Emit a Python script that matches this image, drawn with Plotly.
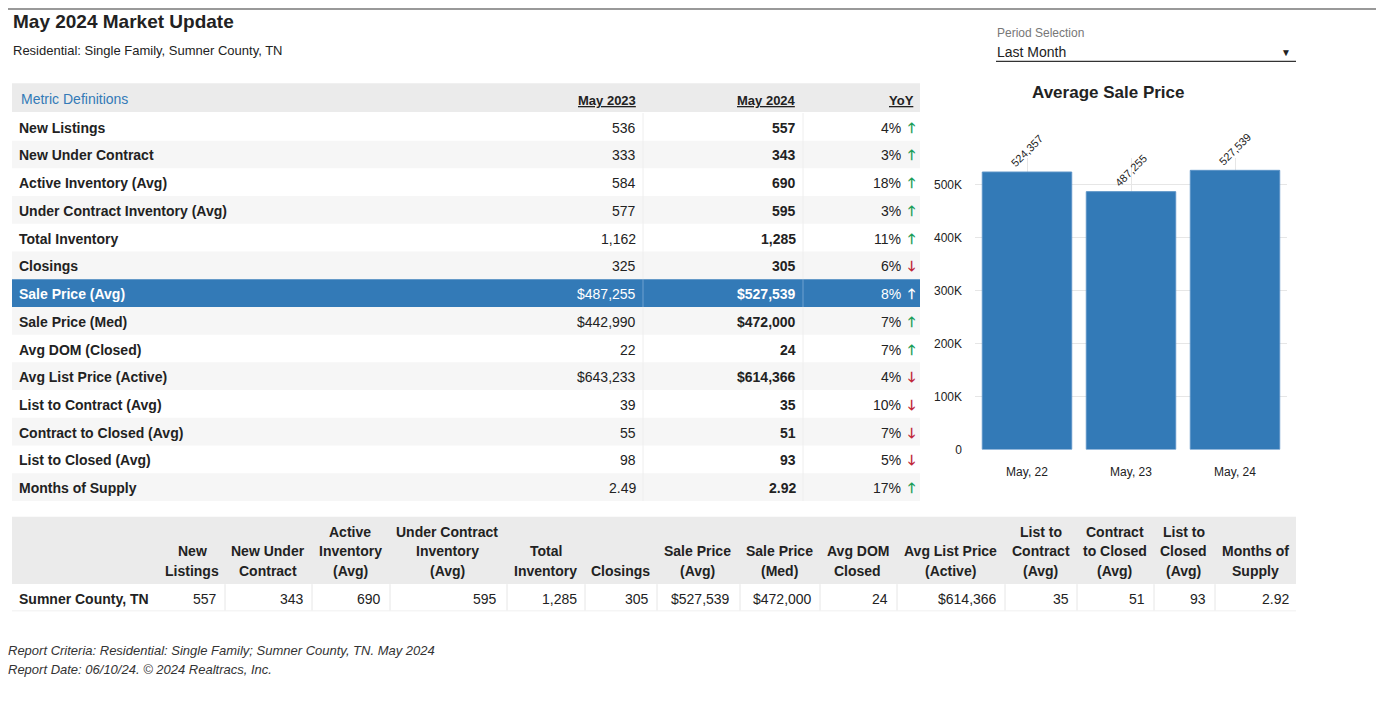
import plotly.graph_objects as go

# page gets an 8px body margin, so the figure is drawn 8px in from the window edge
OFF = 8
W, H = 1384 - 2 * OFF, 690

# ---- data ----
metrics = ["New Listings", "New Under Contract", "Active Inventory (Avg)", "Under Contract Inventory (Avg)",
           "Total Inventory", "Closings", "Sale Price (Avg)", "Sale Price (Med)", "Avg DOM (Closed)",
           "Avg List Price (Active)", "List to Contract (Avg)", "Contract to Closed (Avg)",
           "List to Closed (Avg)", "Months of Supply"]
may_2023 = ["536", "333", "584", "577", "1,162", "325", "$487,255", "$442,990", "22", "$643,233",
            "39", "55", "98", "2.49"]
may_2024 = ["557", "343", "690", "595", "1,285", "305", "$527,539", "$472,000", "24", "$614,366",
            "35", "51", "93", "2.92"]
yoy = ["4%", "3%", "18%", "3%", "11%", "6%", "8%", "7%", "7%", "4%", "10%", "7%", "5%", "17%"]
yoy_up = [True, True, True, True, True, False, True, True, True, False, False, False, False, True]
highlight = "Sale Price (Avg)"

bar_labels = ["May, 22", "May, 23", "May, 24"]
bar_values = [524357, 487255, 527539]

bottom_headers = ["New<br>Listings", "New Under<br>Contract", "Active<br>Inventory<br>(Avg)",
                  "Under Contract<br>Inventory<br>(Avg)", "Total<br>Inventory", "Closings",
                  "Sale Price<br>(Avg)", "Sale Price<br>(Med)", "Avg DOM<br>Closed",
                  "Avg List Price<br>(Active)", "List to<br>Contract<br>(Avg)", "Contract<br>to Closed<br>(Avg)",
                  "List to<br>Closed<br>(Avg)", "Months of<br>Supply"]
bottom_area = "Sumner County, TN"
bottom_values = ["557", "343", "690", "595", "1,285", "305", "$527,539", "$472,000", "24",
                 "$614,366", "35", "51", "93", "2.92"]

FONT = "Liberation Sans, Arial, sans-serif"
BLUE = "#337ab7"


def px(x):
    return (x - OFF) / W


def py(y):
    return 1 - (y - OFF) / H


shapes, ann = [], []


def rect(x0, y0, x1, y1, color):
    shapes.append(dict(type="rect", xref="paper", yref="paper", x0=px(x0), x1=px(x1),
                       y0=py(y1), y1=py(y0), fillcolor=color, line_width=0, layer="below"))


def line(x0, y0, x1, y1, color, w=1):
    shapes.append(dict(type="line", xref="paper", yref="paper", x0=px(x0), x1=px(x1),
                       y0=py(y0), y1=py(y1), line=dict(color=color, width=w)))


def text(x, y, s, size=14, color="#222", bold=False, xanchor="left", yanchor="middle", italic=False, family=FONT):
    if bold:
        s = "<b>" + s + "</b>"
    if italic:
        s = "<i>" + s + "</i>"
    ann.append(dict(x=px(x), y=py(y), xref="paper", yref="paper", text=s, showarrow=False,
                    xanchor=xanchor, yanchor=yanchor, font=dict(size=size, color=color, family=family)))


# top border
line(OFF, OFF + 1, 1384 - OFF, OFF + 1, "#999", 2)

# title
text(11, 22, "May 2024 Market Update", 19, "#222", bold=True)
text(11, 51, "Residential: Single Family, Sumner County, TN", 13)

# period selection
text(995, 33, "Period Selection", 12, "#777")
text(995, 52, "Last Month", 14, "#222")
text(1286, 53, "▼", 10, "#222", xanchor="center")
line(996, 62, 1296, 62, "#333", 1.3)

# main table
rect(12, 84, 920, 113, "#ebebeb")
text(19, 100, "Metric Definitions", 14, BLUE)
text(638, 101, "<u>May 2023</u>", 13, "#222", bold=True, xanchor="right")
text(798, 101, "<u>May 2024</u>", 13, "#222", bold=True, xanchor="right")
text(916, 101, "<u>YoY</u>", 13, "#222", bold=True, xanchor="right")

for i, m in enumerate(metrics):
    top = 114 + i * 28
    cy = top + 15
    hl = m == highlight
    if hl:
        rect(12, top, 920, top + 28, BLUE)
    elif i % 2 == 1:
        rect(12, top, 920, top + 28, "#f6f6f6")
    sep = "#6fa0cf" if hl else "#eeeeee"
    line(643, top, 643, top + 28, sep, 1)
    line(803, top, 803, top + 28, sep, 1)
    tc = "white" if hl else "#222"
    text(17, cy, m, 14, tc, bold=True)
    text(638, cy, may_2023[i], 14, tc, xanchor="right")
    text(798, cy, may_2024[i], 14, tc, bold=True, xanchor="right")
    text(903, cy, yoy[i], 14, tc, xanchor="right")
    ac = "white" if hl else ("#1e9e5a" if yoy_up[i] else "#c0283a")
    text(911, cy, "<b>" + ("🡑" if yoy_up[i] else "🡓") + "</b>", 14, ac, xanchor="center",
         family="DejaVu Sans, sans-serif")

# bottom table
col_right = [218, 305, 382, 498, 578, 650, 731, 813, 889, 998, 1070, 1146, 1207, 1290]
col_left = [160, 225, 312, 390, 507, 585, 657, 740, 820, 897, 1005, 1077, 1154, 1215]
rect(12, 522, 1296, 590, "#ebebeb")
text(17, 605, bottom_area, 14, "#222", bold=True)
for i, hdr in enumerate(bottom_headers):
    cx = (col_left[i] + col_right[i] + 6) / 2
    parts = hdr.split("<br>")
    for k, part in enumerate(parts):
        yline = 577 - 20 * (len(parts) - 1 - k)
        text(cx, yline, part, 14, "#222", bold=True, xanchor="center")
    text(col_right[i] + 1, 605, bottom_values[i], 14, "#222", xanchor="right")
    if i > 0:
        line(col_left[i], 590, col_left[i], 617, "#e6e6e6", 1)
line(12, 617, 1296, 617, "#f0f0f0", 1)

# footer
text(6, 657, "Report Criteria: Residential: Single Family; Sumner County, TN. May 2024", 13, "#333", italic=True)
text(6, 676, "Report Date: 06/10/24. © 2024 Realtracs, Inc.", 13, "#333", italic=True)

# bar chart
text(1108, 93, "Average Sale Price", 17, "#222", bold=True, xanchor="center")

fig = go.Figure(go.Bar(
    x=bar_labels, y=bar_values, marker=dict(color=BLUE, line=dict(color="#5b93c7", width=1)),
    width=0.86, text=[f"{v:,}" for v in bar_values], textposition="outside", textangle=-45,
    textfont=dict(size=11, color="#222", family=FONT), cliponaxis=False,
))
fig.update_layout(
    width=W, height=H, margin=dict(l=0, r=0, t=0, b=0),
    paper_bgcolor="white", plot_bgcolor="white", showlegend=False,
    shapes=shapes, annotations=ann,
    xaxis=dict(domain=[px(975), px(1287)], showgrid=True, gridcolor="#e6e6e6",
               tickfont=dict(size=12, color="#222", family=FONT), ticks="", showline=False,
               ticklabelstandoff=14),
    yaxis=dict(domain=[py(454), py(160)], range=[0, 550000], tickvals=[0, 100000, 200000, 300000, 400000, 500000],
               ticktext=["0", "100K", "200K", "300K", "400K", "500K"], gridcolor="#e6e6e6",
               tickfont=dict(size=12, color="#222", family=FONT), ticklabelstandoff=12, zeroline=False),
    font=dict(family=FONT),
)

fig.write_html("out.html")
